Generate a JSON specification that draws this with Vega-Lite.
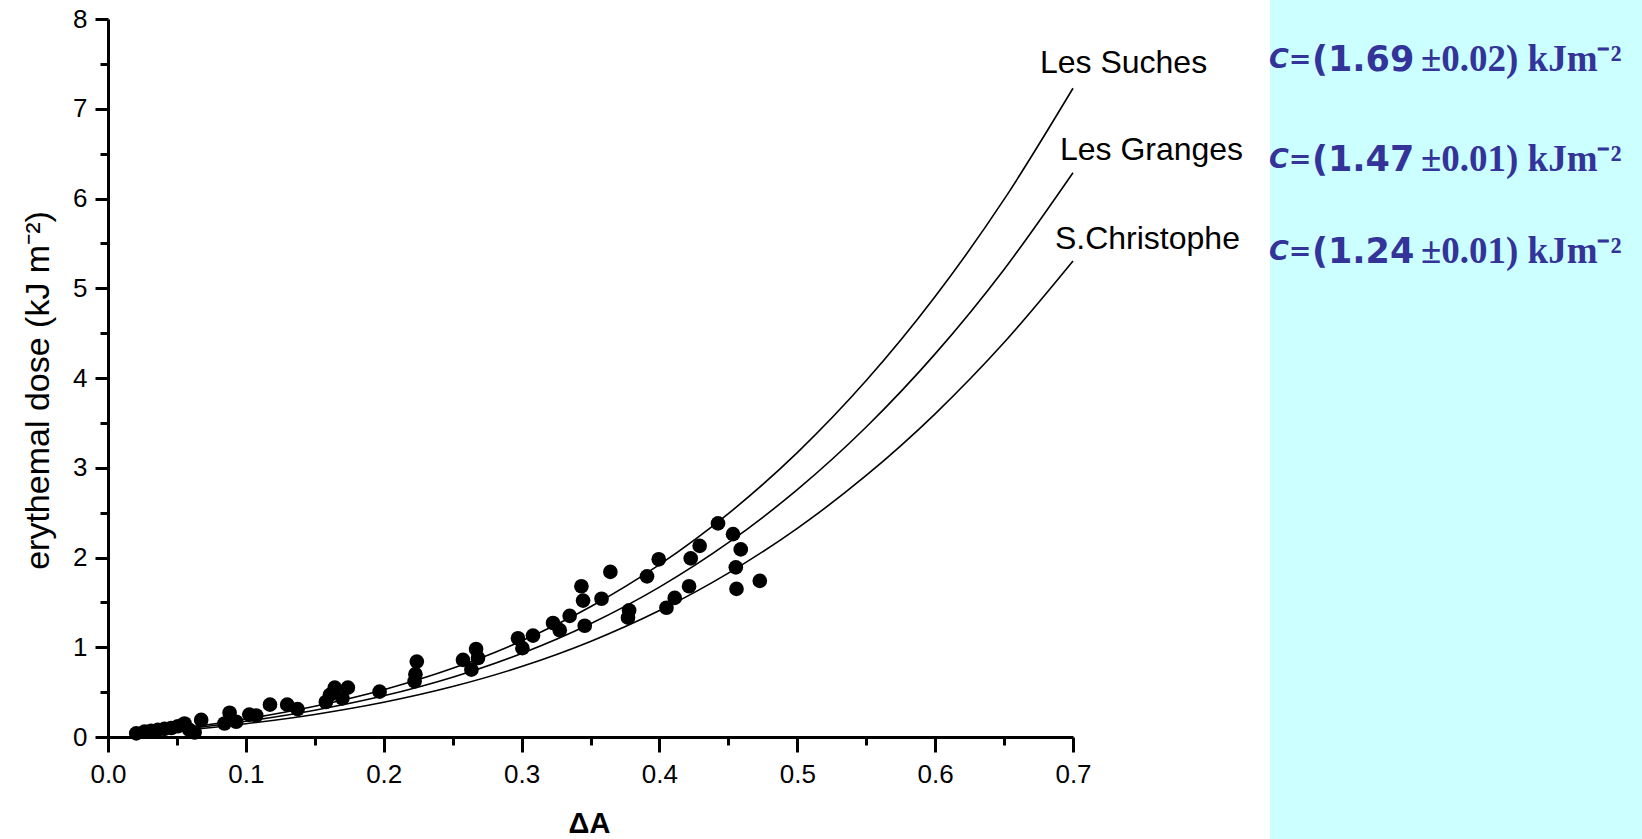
{
  "$schema": "https://vega.github.io/schema/vega-lite/v6.json",
  "width": 965,
  "height": 718,
  "autosize": {"type": "none"},
  "padding": {"left": 108, "top": 19, "right": 569, "bottom": 102},
  "background": "white",
  "config": {
    "view": {"stroke": null},
    "axis": {"grid": false, "domainColor": "black", "tickColor": "black", "labelColor": "black", "titleColor": "black", "labelFont": "Liberation Sans", "titleFont": "Liberation Sans"}
  },
  "datasets": {
    "panel": [{"x0": 0.8429, "x1": 1.15, "y0": 8.4, "y1": -1.3}],
    "points": [
      {"dA": 0.0205, "dose": 0.04}, {"dA": 0.0265, "dose": 0.06}, {"dA": 0.0313, "dose": 0.07}, {"dA": 0.0362, "dose": 0.08},
      {"dA": 0.041, "dose": 0.09}, {"dA": 0.0459, "dose": 0.10}, {"dA": 0.0507, "dose": 0.12}, {"dA": 0.0555, "dose": 0.15},
      {"dA": 0.059, "dose": 0.08}, {"dA": 0.0628, "dose": 0.05}, {"dA": 0.0676, "dose": 0.19}, {"dA": 0.0845, "dose": 0.15},
      {"dA": 0.0882, "dose": 0.27}, {"dA": 0.093, "dose": 0.17}, {"dA": 0.1025, "dose": 0.25}, {"dA": 0.1075, "dose": 0.24},
      {"dA": 0.1175, "dose": 0.36}, {"dA": 0.130, "dose": 0.36}, {"dA": 0.1375, "dose": 0.31}, {"dA": 0.158, "dose": 0.39},
      {"dA": 0.161, "dose": 0.47}, {"dA": 0.1645, "dose": 0.55}, {"dA": 0.170, "dose": 0.43}, {"dA": 0.174, "dose": 0.55},
      {"dA": 0.197, "dose": 0.505}, {"dA": 0.2224, "dose": 0.62}, {"dA": 0.2230, "dose": 0.70}, {"dA": 0.2240, "dose": 0.84},
      {"dA": 0.2575, "dose": 0.86}, {"dA": 0.2636, "dose": 0.75}, {"dA": 0.2670, "dose": 0.98}, {"dA": 0.2684, "dose": 0.88},
      {"dA": 0.2974, "dose": 1.10}, {"dA": 0.3006, "dose": 0.99}, {"dA": 0.3083, "dose": 1.13}, {"dA": 0.3228, "dose": 1.27},
      {"dA": 0.3277, "dose": 1.19}, {"dA": 0.3349, "dose": 1.35}, {"dA": 0.3434, "dose": 1.68}, {"dA": 0.3446, "dose": 1.52},
      {"dA": 0.3458, "dose": 1.24}, {"dA": 0.3580, "dose": 1.54}, {"dA": 0.3644, "dose": 1.84}, {"dA": 0.3772, "dose": 1.33},
      {"dA": 0.3780, "dose": 1.41}, {"dA": 0.3910, "dose": 1.79}, {"dA": 0.3995, "dose": 1.98}, {"dA": 0.4051, "dose": 1.44},
      {"dA": 0.4111, "dose": 1.55}, {"dA": 0.4215, "dose": 1.68}, {"dA": 0.4227, "dose": 1.99}, {"dA": 0.4292, "dose": 2.13},
      {"dA": 0.4425, "dose": 2.38}, {"dA": 0.4534, "dose": 2.26}, {"dA": 0.4554, "dose": 1.89}, {"dA": 0.4559, "dose": 1.65},
      {"dA": 0.4590, "dose": 2.09}, {"dA": 0.4728, "dose": 1.74}
    ],
    "curves": [
      {"site": "Les Suches", "dA": 0.02, "dose": 0.0346}, {"site": "Les Suches", "dA": 0.05, "dose": 0.0906},
      {"site": "Les Suches", "dA": 0.10, "dose": 0.2011}, {"site": "Les Suches", "dA": 0.15, "dose": 0.3429},
      {"site": "Les Suches", "dA": 0.20, "dose": 0.5273}, {"site": "Les Suches", "dA": 0.25, "dose": 0.7658},
      {"site": "Les Suches", "dA": 0.30, "dose": 1.0698}, {"site": "Les Suches", "dA": 0.35, "dose": 1.4507},
      {"site": "Les Suches", "dA": 0.40, "dose": 1.9198}, {"site": "Les Suches", "dA": 0.45, "dose": 2.4887},
      {"site": "Les Suches", "dA": 0.50, "dose": 3.1688}, {"site": "Les Suches", "dA": 0.55, "dose": 3.9713},
      {"site": "Les Suches", "dA": 0.60, "dose": 4.9078}, {"site": "Les Suches", "dA": 0.65, "dose": 5.9896},
      {"site": "Les Suches", "dA": 0.70, "dose": 7.2281},
      {"site": "Les Granges", "dA": 0.02, "dose": 0.0301}, {"site": "Les Granges", "dA": 0.05, "dose": 0.0788},
      {"site": "Les Granges", "dA": 0.10, "dose": 0.1749}, {"site": "Les Granges", "dA": 0.15, "dose": 0.2982},
      {"site": "Les Granges", "dA": 0.20, "dose": 0.4586}, {"site": "Les Granges", "dA": 0.25, "dose": 0.6661},
      {"site": "Les Granges", "dA": 0.30, "dose": 0.9305}, {"site": "Les Granges", "dA": 0.35, "dose": 1.2618},
      {"site": "Les Granges", "dA": 0.40, "dose": 1.6699}, {"site": "Les Granges", "dA": 0.45, "dose": 2.1648},
      {"site": "Les Granges", "dA": 0.50, "dose": 2.7563}, {"site": "Les Granges", "dA": 0.55, "dose": 3.4543},
      {"site": "Les Granges", "dA": 0.60, "dose": 4.2689}, {"site": "Les Granges", "dA": 0.65, "dose": 5.2099},
      {"site": "Les Granges", "dA": 0.70, "dose": 6.2872},
      {"site": "S.Christophe", "dA": 0.02, "dose": 0.0254}, {"site": "S.Christophe", "dA": 0.05, "dose": 0.0665},
      {"site": "S.Christophe", "dA": 0.10, "dose": 0.1476}, {"site": "S.Christophe", "dA": 0.15, "dose": 0.2516},
      {"site": "S.Christophe", "dA": 0.20, "dose": 0.3869}, {"site": "S.Christophe", "dA": 0.25, "dose": 0.5619},
      {"site": "S.Christophe", "dA": 0.30, "dose": 0.7849}, {"site": "S.Christophe", "dA": 0.35, "dose": 1.0644},
      {"site": "S.Christophe", "dA": 0.40, "dose": 1.4086}, {"site": "S.Christophe", "dA": 0.45, "dose": 1.8261},
      {"site": "S.Christophe", "dA": 0.50, "dose": 2.3250}, {"site": "S.Christophe", "dA": 0.55, "dose": 2.9138},
      {"site": "S.Christophe", "dA": 0.60, "dose": 3.6010}, {"site": "S.Christophe", "dA": 0.65, "dose": 4.3947},
      {"site": "S.Christophe", "dA": 0.70, "dose": 5.3035}
    ],
    "curveLabels": [
      {"label": "Les Suches", "dA": 0.6760, "dose": 7.514},
      {"label": "Les Granges", "dA": 0.6905, "dose": 6.544},
      {"label": "S.Christophe", "dA": 0.6869, "dose": 5.552}
    ],
    "cPrefix": [
      {"t": "C=", "dA": 0.8421, "dose": 7.547},
      {"t": "C=", "dA": 0.8421, "dose": 6.433},
      {"t": "C=", "dA": 0.8421, "dose": 5.407}
    ],
    "cValue": [
      {"t": "(1.69", "dA": 0.8733, "dose": 7.547},
      {"t": "(1.47", "dA": 0.8733, "dose": 6.433},
      {"t": "(1.24", "dA": 0.8733, "dose": 5.407}
    ],
    "cErr": [
      {"t": "±0.02) kJm⁻²", "dA": 0.9524, "dose": 7.547},
      {"t": "±0.01) kJm⁻²", "dA": 0.9524, "dose": 6.433},
      {"t": "±0.01) kJm⁻²", "dA": 0.9524, "dose": 5.407}
    ]
  },
  "resolve": {"axis": {"x": "independent", "y": "independent"}},
  "layer": [
    {
      "data": {"name": "panel"},
      "mark": {"type": "rect", "color": "#ccffff"},
      "encoding": {
        "x": {"field": "x0", "type": "quantitative", "scale": {"domain": [0, 0.7], "nice": false, "zero": false},
              "axis": {"orient": "bottom", "values": [0.05, 0.15, 0.25, 0.35, 0.45, 0.55, 0.65], "tickSize": 8, "tickWidth": 3, "labels": false, "domain": false, "title": null}},
        "x2": {"field": "x1"},
        "y": {"field": "y0", "type": "quantitative", "scale": {"domain": [0, 8], "nice": false, "zero": false},
              "axis": {"orient": "left", "values": [0.5, 1.5, 2.5, 3.5, 4.5, 5.5, 6.5, 7.5], "tickSize": 8, "tickWidth": 3, "labels": false, "domain": false, "title": null}},
        "y2": {"field": "y1"}
      }
    },
    {
      "data": {"name": "curves"},
      "mark": {"type": "line", "color": "black", "strokeWidth": 1.6, "interpolate": "monotone"},
      "encoding": {
        "x": {"field": "dA", "type": "quantitative", "scale": {"domain": [0, 0.7], "nice": false, "zero": false}, "axis": null},
        "y": {"field": "dose", "type": "quantitative", "scale": {"domain": [0, 8], "nice": false, "zero": false}, "axis": null},
        "detail": {"field": "site"}
      }
    },
    {
      "data": {"name": "points"},
      "mark": {"type": "circle", "size": 215, "color": "black", "opacity": 1},
      "encoding": {
        "x": {"field": "dA", "type": "quantitative", "scale": {"domain": [0, 0.7], "nice": false, "zero": false},
              "axis": {"orient": "bottom", "values": [0, 0.1, 0.2, 0.3, 0.4, 0.5, 0.6, 0.7], "format": ".1f", "tickSize": 15, "tickWidth": 3, "domainWidth": 3,
                       "labelFontSize": 26, "labelPadding": 9, "labelFlush": false, "labelOverlap": false,
                       "title": "ΔA", "titleFontSize": 29, "titleFontWeight": "bold", "titleX": 481, "titleY": 86, "titleBaseline": "middle", "titleAlign": "center"}},
        "y": {"field": "dose", "type": "quantitative", "scale": {"domain": [0, 8], "nice": false, "zero": false},
              "axis": {"orient": "left", "values": [0, 1, 2, 3, 4, 5, 6, 7, 8], "format": "d", "tickSize": 13, "tickWidth": 3, "domainWidth": 3,
                       "labelFontSize": 26, "labelPadding": 8, "labelFlush": false, "labelOverlap": false,
                       "title": "erythemal dose (kJ m⁻²)", "titleFontSize": 34, "titleFontWeight": "normal", "titleX": -70, "titleY": 371, "titleAngle": 270, "titleBaseline": "middle", "titleAlign": "center"}}
      }
    },
    {
      "data": {"name": "curveLabels"},
      "mark": {"type": "text", "font": "Liberation Sans", "fontSize": 32, "align": "left", "baseline": "middle", "color": "black"},
      "encoding": {
        "x": {"field": "dA", "type": "quantitative", "scale": {"domain": [0, 0.7], "nice": false, "zero": false}, "axis": null},
        "y": {"field": "dose", "type": "quantitative", "scale": {"domain": [0, 8], "nice": false, "zero": false}, "axis": null},
        "text": {"field": "label"}
      }
    },
    {
      "data": {"name": "cPrefix"},
      "mark": {"type": "text", "font": "DejaVu Sans", "fontSize": 27, "fontStyle": "italic", "fontWeight": "bold", "align": "left", "baseline": "middle", "color": "#333399"},
      "encoding": {
        "x": {"field": "dA", "type": "quantitative", "scale": {"domain": [0, 0.7], "nice": false, "zero": false}, "axis": null},
        "y": {"field": "dose", "type": "quantitative", "scale": {"domain": [0, 8], "nice": false, "zero": false}, "axis": null},
        "text": {"field": "t"}
      }
    },
    {
      "data": {"name": "cValue"},
      "mark": {"type": "text", "font": "DejaVu Sans", "fontSize": 35, "fontWeight": "bold", "align": "left", "baseline": "middle", "color": "#333399"},
      "encoding": {
        "x": {"field": "dA", "type": "quantitative", "scale": {"domain": [0, 0.7], "nice": false, "zero": false}, "axis": null},
        "y": {"field": "dose", "type": "quantitative", "scale": {"domain": [0, 8], "nice": false, "zero": false}, "axis": null},
        "text": {"field": "t"}
      }
    },
    {
      "data": {"name": "cErr"},
      "mark": {"type": "text", "font": "Liberation Serif", "fontSize": 37, "fontWeight": "bold", "align": "left", "baseline": "middle", "color": "#333399"},
      "encoding": {
        "x": {"field": "dA", "type": "quantitative", "scale": {"domain": [0, 0.7], "nice": false, "zero": false}, "axis": null},
        "y": {"field": "dose", "type": "quantitative", "scale": {"domain": [0, 8], "nice": false, "zero": false}, "axis": null},
        "text": {"field": "t"}
      }
    }
  ]
}
